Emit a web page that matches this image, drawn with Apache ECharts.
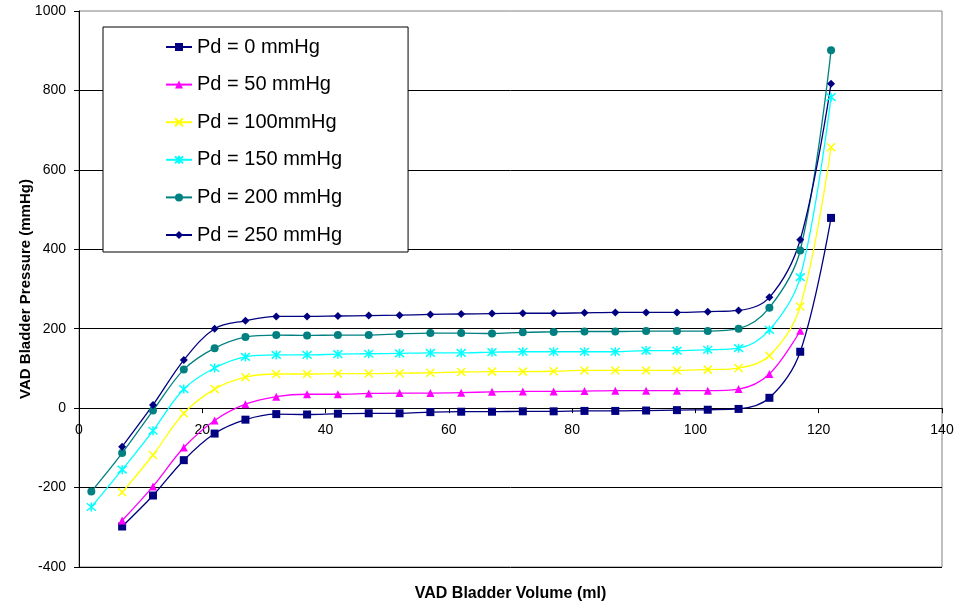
<!DOCTYPE html>
<html>
<head>
<meta charset="utf-8">
<script src="https://cdn.jsdelivr.net/npm/echarts@6/dist/echarts.min.js"></script>
<style>
html,body{margin:0;padding:0;background:#fff;}
#chart{width:956px;height:605px;}
</style>
</head>
<body>
<div id="chart"></div>
<script>
// Bladder volume (ml) for each data column
var volumes = [2,7,12,17,22,27,32,37,42,47,52,57,62,67,72,77,82,87,92,97,102,107,112,117,122];
var seriesNames = ['Pd = 0 mmHg','Pd = 50 mmHg','Pd = 100mmHg','Pd = 150 mmHg','Pd = 200 mmHg','Pd = 250 mmHg'];
var pd0   = [null,-298,-220,-131,-64,-29,-15,-16,-14,-13,-13,-10,-9,-9,-8,-8,-7,-7,-6,-5,-4,-2,26,142,479];
var pd50  = [null,-283,-197,-99,-31,10,29,35,35,37,38,38,39,41,42,42,43,44,44,44,44,48,86,195,null];
var pd100 = [null,-212,-118,-13,48,78,86,86,87,87,88,89,91,92,92,93,95,95,95,95,97,101,132,256,657];
var pd150 = [-249,-155,-57,48,101,129,134,134,136,137,138,139,139,141,142,142,142,142,145,145,147,151,197,330,783];
var pd200 = [-210,-113,-6,97,151,179,184,183,184,184,187,189,189,188,191,192,193,193,194,194,194,200,253,397,901];
var pd250 = [null,-97,8,121,200,220,231,231,232,233,234,236,237,238,239,239,240,241,241,241,243,246,279,424,817];
var xTicks = {min:0, max:140, interval:20};
var yTicks = {min:-400, max:1000, interval:200};

var allValues = [pd0,pd50,pd100,pd150,pd200,pd250];
var colors = ['#000080','#FF00FF','#FFFF00','#00FFFF','#008080','#000080'];
var symbols = ['rect','triangle','path://M0,0L10,10M10,0L0,10','path://M0,0L10,10M10,0L0,10M5,-1L5,11','circle','diamond'];
var sizes = [8,8,8,9,8,8];
var stroked = [false,false,true,true,false,false];

function pairs(vals){
  var out=[];
  for(var i=0;i<volumes.length;i++){ if(vals[i]!==null) out.push([volumes[i],vals[i]]); }
  return out;
}

var series = allValues.map(function(v,i){
  return {
    name: seriesNames[i],
    type:'line',
    data: pairs(v),
    smooth: 0.35,
    symbol: symbols[i],
    symbolSize: sizes[i],
    lineStyle:{color:colors[i], width:1.3},
    itemStyle: stroked[i] ? {color:'transparent', borderColor:colors[i], borderWidth:1.5} : {color:colors[i], borderWidth:0},
    emphasis:{disabled:true},
    animation:false
  };
});

var gridTop = 11, gridBottom = 38, chartH = 605;
var plotH = chartH - gridTop - gridBottom;
// pixel distance of the zero line above the plot bottom (for moving the x axis onto y = 0)
var zeroOffset = (0 - yTicks.min) / (yTicks.max - yTicks.min) * plotH;

var font = '"Liberation Sans", Arial, sans-serif';
var chart = echarts.init(document.getElementById('chart'), null, {renderer:'canvas'});
chart.setOption({
  backgroundColor:'#fff',
  animation:false,
  color: colors,
  grid:{left:79, right:14, top:gridTop, bottom:gridBottom, containLabel:false, outerBoundsMode:'none',
        show:true, borderColor:'#808080', borderWidth:1, backgroundColor:'transparent'},
  legend:{
    orient:'vertical', left:103, top:27,
    padding:[10,66,7,62],
    backgroundColor:'#fff', borderColor:'#000', borderWidth:1,
    itemWidth:26, itemHeight:10, itemGap:17.6,
    textStyle:{fontFamily:font, fontSize:20, color:'#000', lineHeight:20},
    data: seriesNames
  },
  xAxis:{
    type:'value', min:xTicks.min, max:xTicks.max, interval:xTicks.interval,
    position:'bottom', offset:-zeroOffset,
    name:'VAD Bladder Volume (ml)', nameLocation:'middle', nameGap:177, nameMoveOverlap:false,
    nameTextStyle:{fontFamily:font, fontSize:16, fontWeight:'bold', color:'#000'},
    axisLine:{show:true, onZero:false, lineStyle:{color:'#000', width:1}},
    axisTick:{show:true, inside:false, length:5, lineStyle:{color:'#000'}},
    axisLabel:{fontFamily:font, fontSize:14, color:'#000', margin:15},
    splitLine:{show:false}
  },
  yAxis:{
    type:'value', min:yTicks.min, max:yTicks.max, interval:yTicks.interval,
    name:'VAD Bladder Pressure (mmHg)', nameLocation:'middle', nameGap:46, nameMoveOverlap:false,
    nameTextStyle:{fontFamily:font, fontSize:15, fontWeight:'bold', color:'#000'},
    axisLine:{show:true, onZero:false, lineStyle:{color:'#000', width:1}},
    axisTick:{show:true, length:5, lineStyle:{color:'#000'}},
    axisLabel:{fontFamily:font, fontSize:14, color:'#000', margin:13, formatter:function(v){return String(v);}},
    splitLine:{show:true, showMaxLine:false, lineStyle:{color:'#000', width:1}}
  },
  series: series
});
</script>
</body>
</html>
